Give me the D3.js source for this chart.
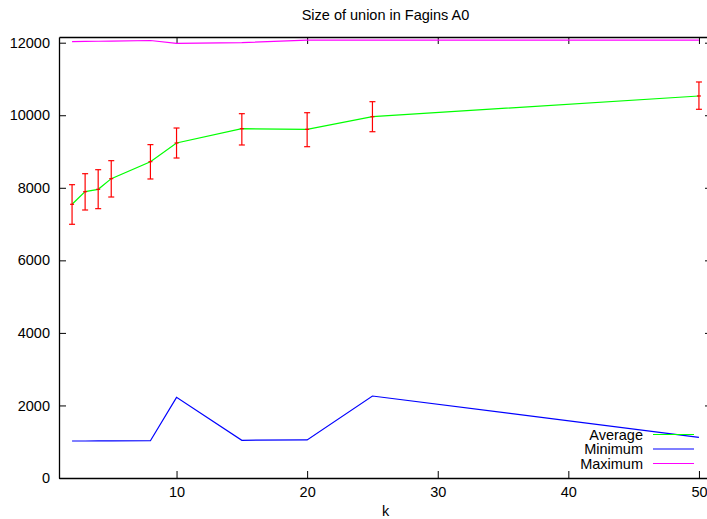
<!DOCTYPE html>
<html>
<head>
<meta charset="utf-8">
<script src="https://cdn.jsdelivr.net/npm/d3@7"></script>
<style>
  body { margin: 0; background: #fff; }
  svg { display: block; font-family: "Liberation Sans", Arial, sans-serif; }
</style>
</head>
<body>
<svg id="chart"></svg>
<script>
// values
const kValues = [2, 3, 4, 5, 8, 10, 15, 20, 25, 50];
const avgValues = [7545, 7893, 7958, 8252, 8720, 9235, 9630, 9611, 9960, 10531];
const errLow = [6994, 7388, 7425, 7746, 8243, 8821, 9180, 9133, 9546, 10164];
const errHigh = [8086, 8389, 8499, 8748, 9190, 9648, 10043, 10070, 10374, 10917];
const minValues = [1020, 1020, 1022, 1024, 1028, 2224, 1040, 1050, 2260, 1122];
const maxValues = [12030, 12035, 12040, 12045, 12060, 11980, 12000, 12070, 12070, 12070];
const xTicks = [10, 20, 30, 40, 50];
const yTicks = [0, 2000, 4000, 6000, 8000, 10000, 12000];
const legendItems = [
  { name: "Average", color: "#00ff00" },
  { name: "Minimum", color: "#0000ff" },
  { name: "Maximum", color: "#ff00ff" }
];

const width = 707, height = 519;
const margin = { top: 37, right: -5, bottom: 41, left: 59 };
const fontSize = "14.5px";

const svg = d3.select("#chart")
  .attr("width", width)
  .attr("height", height);

const x = d3.scaleLinear().domain([1, 51]).range([margin.left, width - margin.right]);
const y = d3.scaleLinear().domain([0, 12157]).range([height - margin.bottom, margin.top]);

const data = kValues.map((k, i) => ({
  k: k, avg: avgValues[i], lo: errLow[i], hi: errHigh[i], min: minValues[i], max: maxValues[i]
}));

// axes (gnuplot style: inward ticks, mirrored)
const tickLen = 7;
const gx = svg.append("g").attr("transform", "translate(0," + y.range()[0] + ")")
  .call(d3.axisBottom(x).tickValues(xTicks).tickSizeInner(-tickLen).tickSizeOuter(0).tickPadding(9));
const gxTop = svg.append("g").attr("transform", "translate(0," + y.range()[1] + ")")
  .call(d3.axisTop(x).tickValues(xTicks).tickSizeInner(-tickLen).tickSizeOuter(0).tickFormat(""));
const gy = svg.append("g").attr("transform", "translate(" + x.range()[0] + ",0)")
  .call(d3.axisLeft(y).tickValues(yTicks).tickSizeInner(-tickLen).tickSizeOuter(0)
    .tickPadding(9).tickFormat(d3.format("d")));
const gyRight = svg.append("g").attr("transform", "translate(" + x.range()[1] + ",0)")
  .call(d3.axisRight(y).tickValues(yTicks).tickSizeInner(-tickLen).tickSizeOuter(0).tickFormat(""));

[gx, gxTop, gy, gyRight].forEach(g => {
  g.select(".domain").attr("stroke", "#000").attr("stroke-width", 1.3);
  g.selectAll(".tick line").attr("stroke", "#000");
  g.selectAll(".tick text").attr("fill", "#000").style("font-size", fontSize)
    .style("font-family", "Liberation Sans, Arial, sans-serif");
});

// data lines
svg.append("clipPath").attr("id", "plotclip").append("rect")
  .attr("x", x.range()[0]).attr("y", y.range()[1])
  .attr("width", x.range()[1] - x.range()[0]).attr("height", y.range()[0] - y.range()[1]);

const plot = svg.append("g").attr("clip-path", "url(#plotclip)");

const lineOf = key => d3.line().x(d => x(d.k)).y(d => y(d[key]));

plot.append("path").datum(data).attr("d", lineOf("max"))
  .attr("fill", "none").attr("stroke", "#ff00ff").attr("stroke-width", 1.2);
plot.append("path").datum(data).attr("d", lineOf("min"))
  .attr("fill", "none").attr("stroke", "#0000ff").attr("stroke-width", 1.2);
plot.append("path").datum(data).attr("d", lineOf("avg"))
  .attr("fill", "none").attr("stroke", "#00ff00").attr("stroke-width", 1.2);

// error bars
const capW = 3;
const eb = plot.append("g").attr("stroke", "#ff0000").attr("stroke-width", 1.2);
data.forEach(d => {
  const cx = x(d.k);
  eb.append("line").attr("x1", cx).attr("x2", cx).attr("y1", y(d.lo)).attr("y2", y(d.hi));
  eb.append("line").attr("x1", cx - capW).attr("x2", cx + capW).attr("y1", y(d.lo)).attr("y2", y(d.lo));
  eb.append("line").attr("x1", cx - capW).attr("x2", cx + capW).attr("y1", y(d.hi)).attr("y2", y(d.hi));
  eb.append("line").attr("x1", cx - 2).attr("x2", cx + 2).attr("y1", y(d.avg)).attr("y2", y(d.avg));
});

// title and axis label
svg.append("text").attr("x", (x.range()[0] + x.range()[1]) / 2).attr("y", 19.5)
  .attr("text-anchor", "middle").style("font-size", fontSize).text("Size of union in Fagins A0");
svg.append("text").attr("x", (x.range()[0] + x.range()[1]) / 2).attr("y", 516)
  .attr("text-anchor", "middle").style("font-size", fontSize).text("k");

// legend
const legend = svg.append("g");
legendItems.forEach((item, i) => {
  const ly = 434.5 + i * 14.5;
  legend.append("text").attr("x", 643).attr("y", ly + 5)
    .attr("text-anchor", "end").style("font-size", fontSize).text(item.name);
  legend.append("line").attr("x1", 653).attr("x2", 694).attr("y1", ly).attr("y2", ly)
    .attr("stroke", item.color).attr("stroke-width", 1.2);
});
</script>
</body>
</html>
